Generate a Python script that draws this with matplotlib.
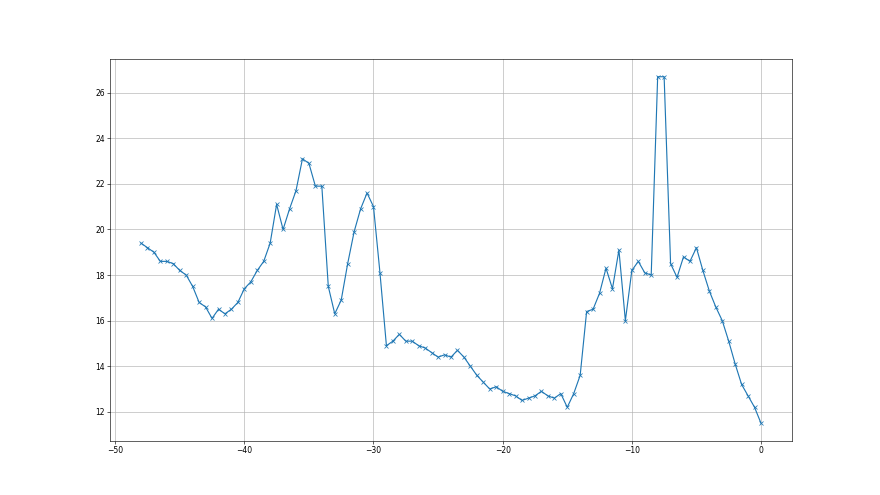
import matplotlib
matplotlib.use("Agg")
import matplotlib.pyplot as plt

x = [-48.0, -47.5, -47.0, -46.5, -46.0, -45.5, -45.0, -44.5, -44.0, -43.5,
     -43.0, -42.5, -42.0, -41.5, -41.0, -40.5, -40.0, -39.5, -39.0, -38.5,
     -38.0, -37.5, -37.0, -36.5, -36.0, -35.5, -35.0, -34.5, -34.0, -33.5,
     -33.0, -32.5, -32.0, -31.5, -31.0, -30.5, -30.0, -29.5, -29.0, -28.5,
     -28.0, -27.5, -27.0, -26.5, -26.0, -25.5, -25.0, -24.5, -24.0, -23.5,
     -23.0, -22.5, -22.0, -21.5, -21.0, -20.5, -20.0, -19.5, -19.0, -18.5,
     -18.0, -17.5, -17.0, -16.5, -16.0, -15.5, -15.0, -14.5, -14.0, -13.5,
     -13.0, -12.5, -12.0, -11.5, -11.0, -10.5, -10.0, -9.5, -9.0, -8.5,
     -8.0, -7.5, -7.0, -6.5, -6.0, -5.5, -5.0, -4.5, -4.0, -3.5,
     -3.0, -2.5, -2.0, -1.5, -1.0, -0.5, 0.0]

y = [19.4, 19.2, 19.0, 18.6, 18.6, 18.5, 18.2, 18.0, 17.5, 16.8,
     16.6, 16.1, 16.5, 16.3, 16.5, 16.8, 17.4, 17.7, 18.2, 18.6,
     19.4, 21.1, 20.0, 20.9, 21.7, 23.1, 22.9, 21.9, 21.9, 17.5,
     16.3, 16.9, 18.5, 19.9, 20.9, 21.6, 21.0, 18.1, 14.9, 15.1,
     15.4, 15.1, 15.1, 14.9, 14.8, 14.6, 14.4, 14.5, 14.4, 14.7,
     14.4, 14.0, 13.6, 13.3, 13.0, 13.1, 12.9, 12.8, 12.7, 12.5,
     12.6, 12.7, 12.9, 12.7, 12.6, 12.8, 12.2, 12.8, 13.6, 16.4,
     16.5, 17.2, 18.3, 17.4, 19.1, 16.0, 18.2, 18.6, 18.1, 18.0,
     26.7, 26.7, 18.5, 17.9, 18.8, 18.6, 19.2, 18.2, 17.3, 16.6,
     16.0, 15.1, 14.1, 13.2, 12.7, 12.2, 11.5]

fig, ax = plt.subplots(figsize=(16, 9), dpi=55)
ax.plot(x, y, marker="x", color="#1f77b4")
ax.grid(True)
fig.savefig("out.png", dpi=55)
